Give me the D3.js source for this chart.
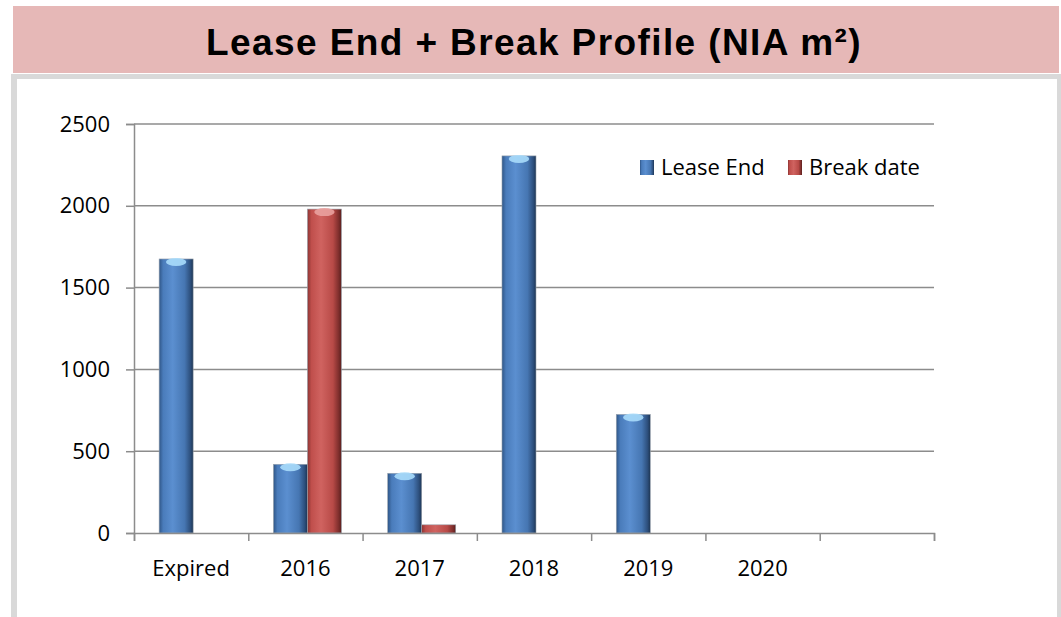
<!DOCTYPE html>
<html>
<head>
<meta charset="utf-8">
<script src="https://cdn.jsdelivr.net/npm/d3@7"></script>
<style>
  body { margin: 0; background: #fff; }
  svg { display: block; }
</style>
</head>
<body>
<div id="chart"></div>
<script>
var categories = ["Expired", "2016", "2017", "2018", "2019", "2020", ""];
var seriesNames = ["Lease End", "Break date"];
var leaseEnd = [1675, 420, 365, 2305, 725, 0, 0];
var breakDate = [0, 1980, 50, 0, 0, 0, 0];
var yTicks = [0, 500, 1000, 1500, 2000, 2500];

var svgWidth = 1061, svgHeight = 617;
var plot = { left: 134, right: 934, top: 124, bottom: 533 };

var svg = d3.select("#chart").append("svg")
  .attr("width", svgWidth)
  .attr("height", svgHeight);

// frame + title band
svg.append("rect").attr("x", 11).attr("y", 74).attr("width", 1050).attr("height", 560).attr("fill", "#d9d9d9");
svg.append("rect").attr("x", 17).attr("y", 79).attr("width", 1040).attr("height", 560).attr("fill", "#fff");
svg.append("rect").attr("x", 13).attr("y", 6).attr("width", 1046).attr("height", 67).attr("fill", "#e6b8b7");

svg.append("text")
  .attr("x", 534).attr("y", 55)
  .attr("text-anchor", "middle")
  .style("font-family", "'Liberation Sans', Arial, sans-serif")
  .style("font-weight", "bold")
  .style("font-size", "37px")
  .style("letter-spacing", "1.4px")
  .text("Lease End + Break Profile (NIA m\u00B2)");

// gradients for the cylinder look
var defs = svg.append("defs");
function cyl(id, stops) {
  var g = defs.append("linearGradient").attr("id", id).attr("x1", "0%").attr("x2", "100%");
  stops.forEach(function (s) { g.append("stop").attr("offset", s[0]).attr("stop-color", s[1]); });
}
cyl("gBlue", [["0%", "#2f5687"], ["12%", "#4a7cbb"], ["40%", "#5b8fd0"], ["75%", "#4676b2"], ["92%", "#2d4f7c"], ["100%", "#1d3554"]]);
cyl("gRed", [["0%", "#8c3533"], ["12%", "#c04f4c"], ["40%", "#d06360"], ["75%", "#b84a47"], ["92%", "#7e2e2c"], ["100%", "#5a1f1e"]]);
var fills = { "Lease End": "url(#gBlue)", "Break date": "url(#gRed)" };
var tops = { "Lease End": "#a9dcfb", "Break date": "#e9a19f" };

var x = d3.scaleBand().domain(categories).range([plot.left, plot.right]);
var x1 = d3.scaleBand().domain(seriesNames).range([2, x.bandwidth() + 2]).paddingOuter(0.68);
var y = d3.scaleLinear().domain([0, 2500]).range([plot.bottom, plot.top]);

// gridlines
svg.append("g").selectAll("line")
  .data(yTicks.slice(1))
  .enter().append("line")
  .attr("x1", plot.left).attr("x2", plot.right)
  .attr("y1", function (d) { return y(d); }).attr("y2", function (d) { return y(d); })
  .attr("stroke", "#8c8c8c").attr("stroke-width", 1.5);

// bars
var rows = categories.map(function (c, i) {
  return { cat: c, vals: [{ s: "Lease End", v: leaseEnd[i] }, { s: "Break date", v: breakDate[i] }] };
});
var groups = svg.append("g").selectAll("g")
  .data(rows).enter().append("g")
  .attr("transform", function (d) { return "translate(" + x(d.cat) + ",0)"; });

var bars = groups.selectAll("g")
  .data(function (d) { return d.vals.filter(function (b) { return b.v > 0; }); })
  .enter().append("g");

bars.append("rect")
  .attr("x", function (d) { return x1(d.s); })
  .attr("y", function (d) { return y(d.v); })
  .attr("width", x1.bandwidth())
  .attr("height", function (d) { return y(0) - y(d.v); })
  .attr("fill", function (d) { return fills[d.s]; })
  .attr("stroke", "#9aa3ad").attr("stroke-width", 0.6);

bars.filter(function (d) { return y(0) - y(d.v) > 20; })
  .append("ellipse")
  .attr("cx", function (d) { return x1(d.s) + x1.bandwidth() * 0.5; })
  .attr("cy", function (d) { return y(d.v) + 3; })
  .attr("rx", x1.bandwidth() * 0.3)
  .attr("ry", 4)
  .attr("fill", function (d) { return tops[d.s]; })
  .attr("opacity", 0.9);

// y axis
var yAxis = svg.append("g")
  .attr("transform", "translate(" + plot.left + ",0)")
  .call(d3.axisLeft(y).tickValues(yTicks).tickFormat(d3.format("d")).tickSize(8).tickPadding(16));
yAxis.selectAll("text")
  .style("font-family", "'Open Sans', sans-serif").style("font-size", "22px").attr("fill", "#000");

// x axis tick marks at band edges
var xEdges = d3.scaleLinear().domain([0, categories.length]).range([plot.left, plot.right]);
var xAxis = svg.append("g")
  .attr("transform", "translate(0," + plot.bottom + ")")
  .call(d3.axisBottom(xEdges).tickValues(d3.range(categories.length + 1)).tickSize(8).tickSizeOuter(8).tickFormat(""));

var xLabels = svg.append("g")
  .attr("transform", "translate(0," + plot.bottom + ")")
  .call(d3.axisBottom(x).tickSize(0).tickPadding(27));
xLabels.select(".domain").remove();
xLabels.selectAll("text")
  .style("font-family", "'Open Sans', sans-serif").style("font-size", "22px").attr("fill", "#000");

svg.selectAll(".domain, .tick line").attr("stroke", "#8c8c8c").attr("stroke-width", 1.5);

// legend
var legend = svg.append("g").selectAll("g")
  .data(seriesNames).enter().append("g")
  .attr("transform", function (d, i) { return "translate(" + [640, 788][i] + ",160)"; });
legend.append("rect")
  .attr("width", 14).attr("height", 15)
  .attr("fill", function (d) { return fills[d]; });
legend.append("text")
  .attr("x", 21).attr("y", 15)
  .style("font-family", "'Open Sans', sans-serif").style("font-size", "22px")
  .text(function (d) { return d; });
</script>
</body>
</html>
